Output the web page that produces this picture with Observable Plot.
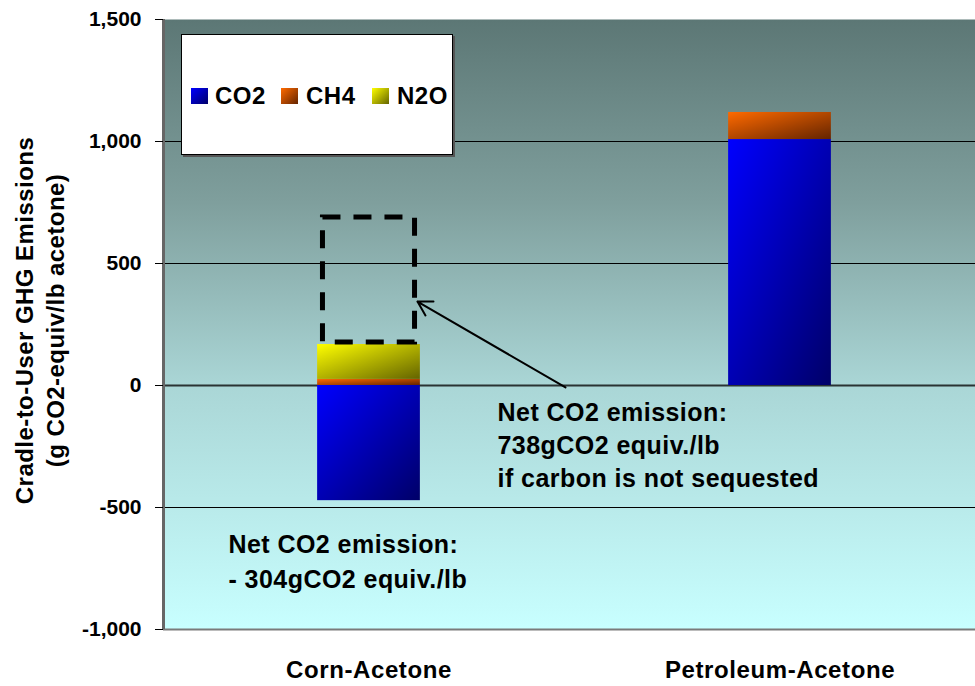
<!DOCTYPE html>
<html><head><meta charset="utf-8">
<script src="https://cdn.jsdelivr.net/npm/d3@7"></script>
<script src="https://cdn.jsdelivr.net/npm/@observablehq/plot@0.6"></script>
<style>
body{margin:0;background:#fff;font-family:"Liberation Sans",Arial,sans-serif;}
#wrap{position:relative;width:975px;height:686px;overflow:hidden;}
#legend{position:absolute;left:181px;top:34px;width:270px;height:119px;background:#fff;border:1px solid #000;box-shadow:2px 2px 0 #555;}
.sw{position:absolute;width:17px;height:16px;top:53px}
.lt{position:absolute;top:46px;font-size:24px;font-weight:bold;line-height:30px;letter-spacing:0.5px;color:#000}
svg g[aria-label="x-axis tick label"], svg g[aria-label="x-axis tick label"] text{font-weight:bold;font-size:24px;letter-spacing:0.6px}
svg g[aria-label="y-axis tick label"], svg g[aria-label="y-axis tick label"] text{font-weight:bold;font-size:21px}
</style></head><body><div id="wrap"></div>
<script>
// ---- data ----
const categories = ["Corn-Acetone", "Petroleum-Acetone"];
const gases = ["CO2", "CH4", "N2O"];
const co2 = [-472, 1008];
const ch4 = [25, 111];
const n2o = [143, 0];
const yTicks = [-1000, -500, 0, 500, 1000, 1500];
const gridValues = [-500, 500, 1000];
const sequesterBox = [176, 689];          // dashed box range (g CO2-equiv/lb)
const noteCorn = ["Net CO2 emission:", "- 304gCO2 equiv./lb"];
const notePetro = ["Net CO2 emission:", "738gCO2 equiv./lb", "if carbon is not sequested"];
const yTitle = ["Cradle-to-User GHG Emissions", "(g CO2-equiv/lb acetone)"];

// ---- build stacked rows ----
const half = 0.125;
const rows = [];
categories.forEach((c, i) => {
  let pos = 0, neg = 0;
  [co2[i], ch4[i], n2o[i]].forEach((v, k) => {
    let y1, y2;
    if (v >= 0) { y1 = pos; y2 = pos + v; pos = y2; } else { y1 = neg; y2 = neg + v; neg = y2; }
    if (v !== 0) rows.push({category: c, i, gas: gases[k], y1, y2});
  });
});

const gradIds = {CO2: "gCO2", CH4: "gCH4", N2O: "gN2O"};
const gradStops = {CO2: ["#0000ff", "#000068"], CH4: ["#ff6a00", "#642400"], N2O: ["#ffff00", "#646400"]};

const svg = Plot.plot({
  width: 975, height: 686,
  marginLeft: 163, marginRight: 0, marginTop: 19, marginBottom: 57,
  style: {fontFamily: "'Liberation Sans', Arial, sans-serif", color: "black", background: "white", overflow: "visible"},
  x: {domain: [0, 812 / 411]},
  y: {domain: [-1000, 1500]},
  color: {type: "ordinal", domain: gases, range: gases.map(g => `url(#${gradIds[g]})`)},
  marks: [
    Plot.frame({fill: "url(#bgGrad)", stroke: null}),
    Plot.ruleY(gridValues, {stroke: "black", strokeWidth: 1}),
    Plot.ruleY([0], {stroke: "#2a3333", strokeWidth: 2}),
    Plot.ruleY([-1000], {stroke: "#7a7a7a", strokeWidth: 2}),
    Plot.ruleX([0], {stroke: "#666", strokeWidth: 3}),
    Plot.rect(rows, {x1: d => d.i + 0.5 - half, x2: d => d.i + 0.5 + half, y1: "y1", y2: "y2", fill: "gas"}),
    Plot.rect([sequesterBox], {x1: 0.5 - 0.112, x2: 0.5 + 0.112, y1: d => d[0], y2: d => d[1],
      fill: "none", stroke: "black", strokeWidth: 5, strokeDasharray: "18,13"}),
    Plot.arrow([{x1: 0.978, y1: -8, x2: 0.618, y2: 344}], {x1: "x1", y1: "y1", x2: "x2", y2: "y2",
      stroke: "black", strokeWidth: 2, headLength: 12}),
    Plot.text([notePetro.join("\n")], {x: 0.8127, y: -49, text: d => d, textAnchor: "start", lineAnchor: "top",
      fontSize: 25, fontWeight: "bold", lineHeight: 1.32, fill: "black", style: "letter-spacing:0.45px"}),
    Plot.text([noteCorn.join("\n")], {x: 0.158, y: -586, text: d => d, textAnchor: "start", lineAnchor: "top",
      fontSize: 25, fontWeight: "bold", lineHeight: 1.4, fill: "black"}),
    Plot.text([yTitle.join("\n")], {frameAnchor: "left", text: d => d, rotate: -90, dx: -125, dy: -4,
      textAnchor: "middle", lineAnchor: "middle", fontSize: 24, fontWeight: "bold", lineHeight: 1.3, fill: "black"}),
    Plot.axisY({ticks: yTicks, tickFormat: d => d.toLocaleString("en-US"), tickSize: 8, tickPadding: 14,
      fontSize: 21, fontWeight: "bold"}),
    Plot.axisX({ticks: [0.5, 1.5], tickFormat: d => categories[Math.floor(d)], tickSize: 0, tickPadding: 31,
      fontSize: 24, fontWeight: "bold"})
  ]
});

// gradient defs
const defs = d3.select(svg).insert("defs", ":first-child");
const bg = defs.append("linearGradient").attr("id", "bgGrad").attr("x1", 0).attr("y1", 0).attr("x2", 0).attr("y2", 1);
[[0, "#5c7775"], [0.3, "#7f9f9d"], [0.6, "#aad6d6"], [1, "#c8ffff"]].forEach(([o, c]) =>
  bg.append("stop").attr("offset", o).attr("stop-color", c));
gases.forEach(g => {
  const lg = defs.append("linearGradient").attr("id", gradIds[g]).attr("x1", 0).attr("y1", 0).attr("x2", 1).attr("y2", 1);
  lg.append("stop").attr("offset", 0).attr("stop-color", gradStops[g][0]);
  lg.append("stop").attr("offset", 1).attr("stop-color", gradStops[g][1]);
});
// letter spacing for annotations
d3.select(svg).selectAll('g[aria-label="text"] text').style("letter-spacing", "0.45px");

const wrap = document.getElementById("wrap");
wrap.appendChild(svg);

// legend overlay
const legend = document.createElement("div");
legend.id = "legend";
const swLeft = [9, 99, 190], txLeft = [33, 124, 215];
gases.forEach((g, k) => {
  const sw = document.createElement("div");
  sw.className = "sw";
  sw.style.left = swLeft[k] + "px";
  sw.style.background = `linear-gradient(135deg, ${gradStops[g][0]}, ${gradStops[g][1]})`;
  legend.appendChild(sw);
  const t = document.createElement("div");
  t.className = "lt";
  t.style.left = txLeft[k] + "px";
  t.textContent = g;
  legend.appendChild(t);
});
wrap.appendChild(legend);
</script>
</body></html>
